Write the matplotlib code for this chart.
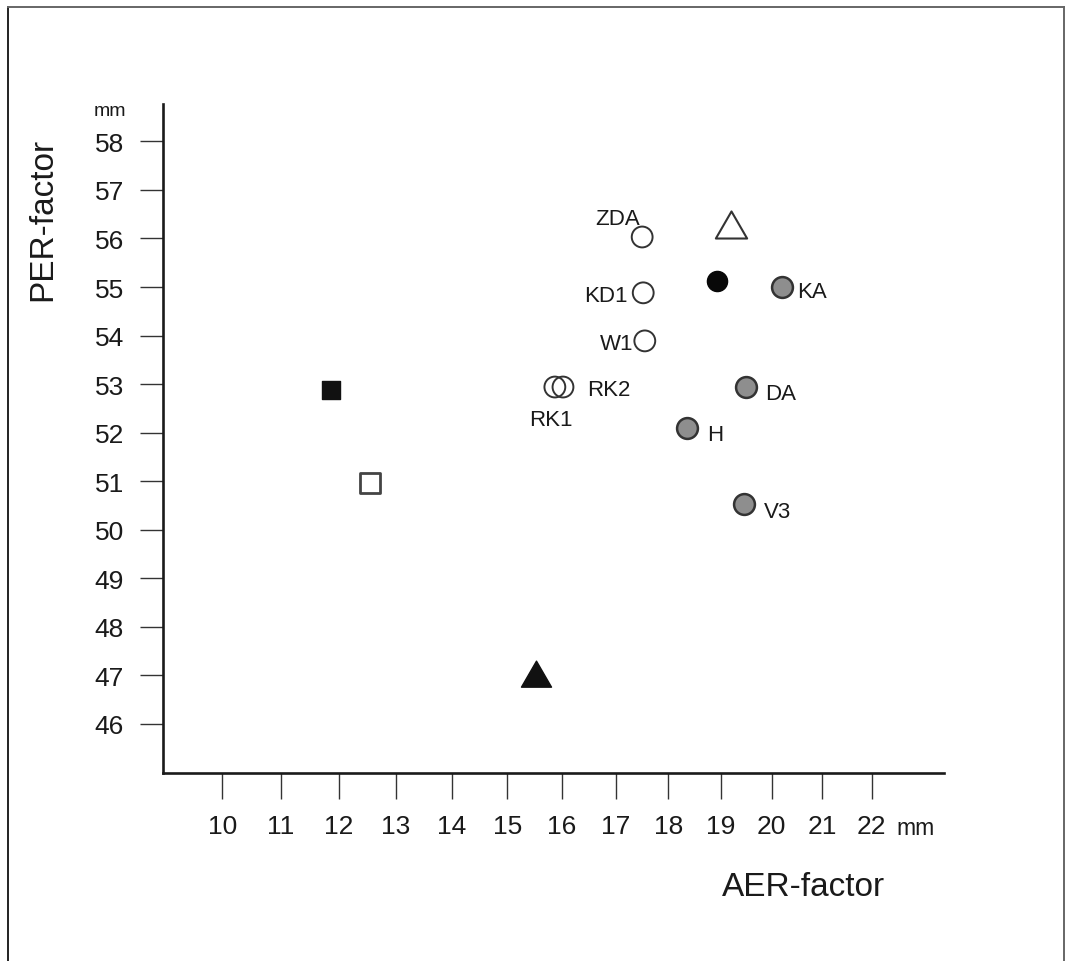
import matplotlib
matplotlib.use("Agg")
import numpy as np
import matplotlib.pyplot as plt
from matplotlib.lines import Line2D
from matplotlib.path import Path

plt.rcParams['font.family'] = ['Liberation Sans', 'DejaVu Sans']

# ---- data ----
open_labels = ["ZDA", "KD1", "W1", "RK1", "RK2"]
open_x = [17.50, 17.52, 17.55, 15.87, 16.02]
open_y = [56.03, 54.88, 53.89, 52.94, 52.94]

gray_labels = ["KA", "DA", "H", "V3"]
gray_x = [20.20, 19.50, 18.35, 19.46]
gray_y = [55.00, 52.94, 52.10, 50.53]

black_circle_x = [18.94]
black_circle_y = [55.13]
black_square_x = [11.86]
black_square_y = [52.88]
open_square_x = [12.55]
open_square_y = [50.97]
black_tri_x = [15.53]
black_tri_y = [46.95]
open_tri_x = [19.21]
open_tri_y = [56.20]

x_ticks = list(range(10, 23))
y_ticks = list(range(46, 59))

# label offsets (points) and alignment
label_style = {
    "ZDA": ((-18, 9.4), "center"),
    "KD1": ((-11.5, -5.8), "right"),
    "W1": ((-7.9, -5.8), "right"),
    "RK1": ((-3.2, -27.4), "center"),
    "RK2": ((17.3, -5.8), "left"),
    "KA": ((10.8, -7.2), "left"),
    "DA": ((13.7, -8.6), "left"),
    "H": ((14.4, -8.6), "left"),
    "V3": ((14.4, -9.4), "left"),
}

# the original x axis is slightly compressed towards the right
_b, _c = 59.17, -0.4167


def x_fwd(x):
    u = np.asarray(x, dtype=float) - 10.0
    return _b * u + _c * u * u


def x_inv(f):
    f = np.asarray(f, dtype=float)
    disc = np.clip(_b * _b + 4 * _c * f, 0, None)
    return 10.0 + (-_b + np.sqrt(disc)) / (2 * _c)


fig = plt.figure(figsize=(10.71, 9.62), dpi=100)
ax = fig.add_axes([0.1522, 0.1954, 0.8814 - 0.1522, 0.8909 - 0.1954])
ax.set_xscale("function", functions=(x_fwd, x_inv))

txt = "#1a1a1a"
edge = "#333333"

# closed equilateral triangle marker
tri = Path([(-1, -0.577), (1, -0.577), (0, 1.155), (-1, -0.577)], closed=True)

ax.scatter(open_x, open_y, s=15**2, facecolors="none", edgecolors=edge, linewidths=1.4, zorder=3)
ax.scatter(gray_x, gray_y, s=15**2, facecolors="#8e8e8e", edgecolors=edge, linewidths=1.8, zorder=3)
ax.scatter(black_circle_x, black_circle_y, s=14.5**2, facecolors="#080808", edgecolors="#080808", linewidths=1, zorder=3)
ax.scatter(black_square_x, black_square_y, marker="s", s=13.5**2, facecolors="#111111", edgecolors="#111111", linewidths=1, zorder=3)
ax.scatter(open_square_x, open_square_y, marker="s", s=14**2, facecolors="white", edgecolors="#444444", linewidths=2, zorder=3)
ax.scatter(black_tri_x, black_tri_y, marker=tri, s=25**2, facecolors="#111111", edgecolors="#111111", linewidths=1, zorder=3)
ax.scatter(open_tri_x, open_tri_y, marker=tri, s=26**2, facecolors="white", edgecolors="#333333", linewidths=1.5, zorder=3)

for lab, x, y in list(zip(open_labels, open_x, open_y)) + list(zip(gray_labels, gray_x, gray_y)):
    off, ha = label_style[lab]
    ax.annotate(lab, xy=(x, y), xytext=off, textcoords="offset points",
                ha=ha, va="baseline", fontsize=16, color=txt)

ax.set_xlim(9.007, 23.49)
ax.set_ylim(44.99, 58.77)
ax.set_xticks(x_ticks)
ax.set_yticks(y_ticks)
ax.set_xticklabels([str(t) for t in x_ticks])
ax.set_yticklabels([str(t) for t in y_ticks])
ax.minorticks_off()

for s in ["top", "right"]:
    ax.spines[s].set_visible(False)
for s in ["left", "bottom"]:
    ax.spines[s].set_linewidth(1.9)
    ax.spines[s].set_color("#1a1a1a")

ax.tick_params(axis="y", direction="out", length=16.5, width=1.0, color="#333333",
               pad=11.5, labelsize=19, labelcolor=txt)
ax.tick_params(axis="x", direction="out", length=18.7, width=1.0, color="#333333",
               pad=10.5, labelsize=19, labelcolor=txt)

# units
fig.text(110 / 1071, 1 - 112 / 962, "mm", fontsize=14, color=txt, ha="center", va="center")
fig.text(916 / 1071, 1 - 829 / 962, "mm", fontsize=16.5, color=txt, ha="center", va="center")

# axis titles
fig.text(804 / 1071, 1 - 888 / 962, "AER-factor", fontsize=24, color=txt, ha="center", va="center")
fig.text(43 / 1071, 1 - 219 / 962, "PER-factor", fontsize=24, color=txt, ha="center", va="center", rotation=90)

# outer frame (open at bottom)
fx0, fx1 = 7.5 / 1071, 1064 / 1071
fy1 = 1 - 7.5 / 962
fig.add_artist(Line2D([fx0, fx0], [0, fy1], transform=fig.transFigure, color="#222222", lw=1.4))
fig.add_artist(Line2D([fx0, fx1], [fy1, fy1], transform=fig.transFigure, color="#666666", lw=1.4))
fig.add_artist(Line2D([fx1, fx1], [0, fy1], transform=fig.transFigure, color="#666666", lw=1.4))

fig.savefig("out.png", dpi=100)
